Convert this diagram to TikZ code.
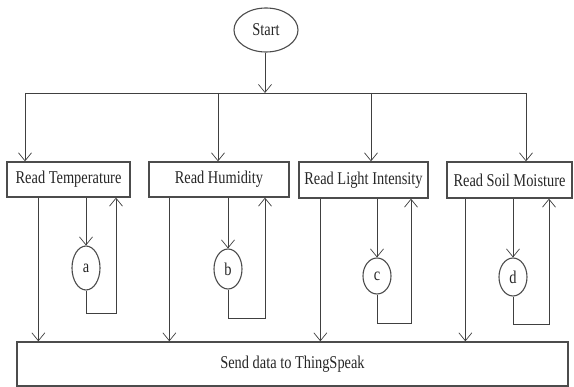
\documentclass[tikz,border=0pt]{standalone}
\usepackage{fontspec}
\setmainfont{Liberation Serif}[FakeStretch=0.8]
\usetikzlibrary{positioning,arrows.meta,shapes.geometric,calc}

\begin{document}
\begin{tikzpicture}[
  x=1pt, y=-1pt,
  every node/.style={font=\fontsize{18}{20}\selectfont, text=black!85},
  wire/.style={draw=black!75, line width=0.8pt},
  arr/.style={wire, -{Straight Barb[length=8pt,width=13pt,line width=0.7pt]}},
  readbox/.style={rectangle, draw=black!70, line width=1.3pt, minimum height=35pt, inner sep=2pt},
  startov/.style={ellipse, draw=black!70, line width=1.1pt, minimum width=64pt, minimum height=44pt, inner sep=0pt},
  stepov/.style={ellipse, draw=black!70, line width=1.1pt, minimum width=28pt, inner sep=0pt}
]
\useasboundingbox (0,0) rectangle (574,387);

\node[startov] (start) at (266,30) {Start};
\node[readbox, minimum width=123pt] (temp) at (68.5,179.5) {Read Temperature};
\node[readbox, minimum width=140pt] (hum) at (219,179.5) {Read Humidity};
\node[readbox, minimum width=129pt, minimum height=36pt] (light) at (363.5,180) {Read Light Intensity};
\node[readbox, minimum width=125pt, minimum height=36pt] (soil) at (509.5,180) {Read Soil Moisture};
\node[readbox, minimum width=551pt, minimum height=44pt] (send) at (292.5,364) {Send data to ThingSpeak};

\node[stepov, minimum height=44pt] (a) at (86,268) {a};
\node[stepov, minimum height=40pt] (b) at (228,269) {b};
\node[stepov, minimum height=36pt] (c) at (377,276) {c};
\node[stepov, minimum height=38pt] (d) at (513,277) {d};

% top bar
\coordinate (hub) at (265,93);
\coordinate (bar1) at (25,93);
\coordinate (bar2) at (218,93);
\coordinate (bar3) at (371,93);
\coordinate (bar4) at (526,93);
\draw[arr] (start.south -| hub) -- (hub);
\draw[wire] (bar1) -- (bar4);
\draw[arr] (bar1) -- (bar1 |- temp.north);
\draw[arr] (bar2) -- (bar2 |- hum.north);
\draw[arr] (bar3) -- (bar3 |- light.north);
\draw[arr] (bar4) -- (bar4 |- soil.north);

% straight down to the send box
\draw[arr] ([xshift=32pt]temp.south west) -- ([xshift=32pt]temp.south west |- send.north);
\draw[arr] ([xshift=21pt]hum.south west) -- ([xshift=21pt]hum.south west |- send.north);
\draw[arr] ([xshift=22pt]light.south west) -- ([xshift=22pt]light.south west |- send.north);
\draw[arr] ([xshift=19pt]soil.south west) -- ([xshift=19pt]soil.south west |- send.north);

% loops
\coordinate (la) at (116,313);
\coordinate (lb) at (265,318);
\coordinate (lc) at (411,323);
\coordinate (ld) at (549,324);
\draw[arr] (a.north |- temp.south) -- (a.north);
\draw[arr] (a.south) |- (la) -- (la |- temp.south);
\draw[arr] (b.north |- hum.south) -- (b.north);
\draw[arr] (b.south) |- (lb) -- (lb |- hum.south);
\draw[arr] (c.north |- light.south) -- (c.north);
\draw[arr] (c.south) |- (lc) -- (lc |- light.south);
\draw[arr] (d.north |- soil.south) -- (d.north);
\draw[arr] (d.south) |- (ld) -- (ld |- soil.south);

\end{tikzpicture}
\end{document}
